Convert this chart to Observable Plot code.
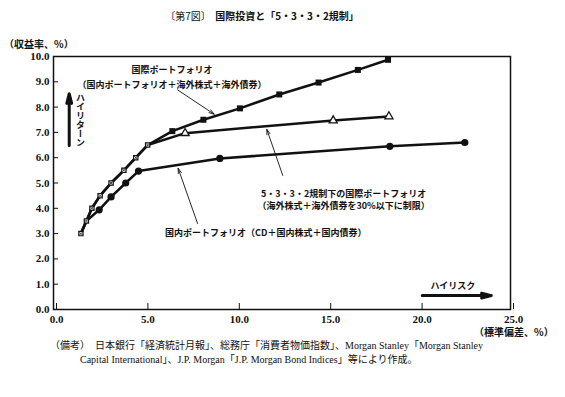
<!DOCTYPE html>
<html><head><meta charset="utf-8">
<script src="https://cdn.jsdelivr.net/npm/d3@7"></script>
<script src="https://cdn.jsdelivr.net/npm/@observablehq/plot@0.6"></script>
<style>
body{margin:0;background:#fff;}
#wrap{position:relative;width:565px;height:397px;overflow:hidden;background:#fff;}
#wrap svg{position:absolute;left:0;top:0;}
.t{position:absolute;white-space:nowrap;color:#111;font-family:"Noto Sans CJK JP",sans-serif;}
.serif{font-family:"Liberation Serif","Noto Sans CJK JP",serif;}
</style></head><body><div id="wrap"></div>
<script>
// ---- data ----
const xTicks = [0, 5, 10, 15, 20, 25];
const yTicks = [0, 1, 2, 3, 4, 5, 6, 7, 8, 9, 10];
// common segment shared by the two international portfolios
const sharedX = [1.5, 1.8, 2.1, 2.55, 3.15, 3.85, 4.5, 5.15];
const sharedY = [3.0, 3.5, 4.0, 4.5, 5.0, 5.5, 6.0, 6.5];
// 国際ポートフォリオ (unrestricted)
const intlX = [6.5, 8.2, 10.2, 12.35, 14.5, 16.65, 18.3];
const intlY = [7.05, 7.5, 7.95, 8.5, 8.97, 9.47, 9.87];
// 5・3・3・2規制下の国際ポートフォリオ
const restX = [7.2, 15.3, 18.35];
const restY = [6.97, 7.47, 7.63];
// 国内ポートフォリオ
const domX = [2.5, 3.15, 3.95, 4.65, 9.1, 18.4, 22.5];
const domY = [3.94, 4.45, 5.0, 5.47, 5.97, 6.45, 6.6];
// annotations
const noteText = [
  "国際ポートフォリオ\n（国内ポートフォリオ＋海外株式＋海外債券）",
  "5・3・3・2規制下の国際ポートフォリオ\n（海外株式＋海外債券を30%以下に制限）",
  "国内ポートフォリオ（CD＋国内株式＋国内債券）",
  "ハイリスク"
];
const noteX = [6.48, 15.87, 11.61, 21.85];
const noteY = [9.23, 4.38, 3.02, 0.92];
const pointerX1 = [6.79, 12.54, 7.88];
const pointerY1 = [8.68, 5.3, 3.4];
const pointerX2 = [8.79, 11.67, 6.82];
const pointerY2 = [7.72, 7.12, 5.58];
const bigArrowX1 = [0.86, 20.17];
const bigArrowY1 = [6.48, 0.55];
const bigArrowX2 = [0.86, 23.95];
const bigArrowY2 = [8.53, 0.55];

// ---- build tables ----
const pts = (xs, ys) => xs.map((x, i) => ({x, y: ys[i]}));
const shared = pts(sharedX, sharedY);
const intlTail = pts(intlX, intlY);
const restTail = pts(restX, restY);
const domTail = pts(domX, domY);
const intlLine = shared.concat(intlTail);
const restLine = shared.concat(restTail);
const domLine = shared.slice(0, 2).concat(domTail);
const notes = noteText.map((t, i) => ({t, x: noteX[i], y: noteY[i]}));
const pointers = pointerX1.map((x1, i) => ({x1, y1: pointerY1[i], x2: pointerX2[i], y2: pointerY2[i]}));
const bigArrows = bigArrowX1.map((x1, i) => ({x1, y1: bigArrowY1[i], x2: bigArrowX2[i], y2: bigArrowY2[i]}));

const INK = "#111";
const CJK = '"Noto Sans CJK JP", sans-serif';
const fmt = d3.format(".1f");

const plot = Plot.plot({
  width: 565, height: 397,
  marginLeft: 53, marginRight: 55, marginTop: 56, marginBottom: 88,
  x: {domain: [0, 25]},
  y: {domain: [0, 10]},
  style: {fontFamily: '"Liberation Serif", serif', fontSize: "11px", fontWeight: "bold", color: INK, background: "transparent"},
  marks: [
    Plot.frame({stroke: INK, strokeWidth: 1.5}),
    Plot.axisX({ticks: xTicks, tickSize: -6, tickPadding: 12, tickFormat: fmt, label: null, dx: 3}),
    Plot.axisY({ticks: yTicks, tickSize: -5, tickPadding: 9, tickFormat: fmt, label: null}),
    Plot.line(intlLine, {x: "x", y: "y", stroke: INK, strokeWidth: 2.5}),
    Plot.line(restLine, {x: "x", y: "y", stroke: INK, strokeWidth: 2.5}),
    Plot.line(domLine, {x: "x", y: "y", stroke: INK, strokeWidth: 2.5}),
    Plot.dot(intlTail, {x: "x", y: "y", symbol: "square", fill: INK, r: 3.4}),
    Plot.dot(restTail, {x: "x", y: "y", symbol: "triangle", fill: "white", stroke: INK, strokeWidth: 1.3, r: 3}),
    Plot.dot(domTail, {x: "x", y: "y", symbol: "circle", fill: INK, r: 3.6}),
    Plot.dot(shared, {x: "x", y: "y", symbol: "square", fill: "white", stroke: INK, strokeWidth: 1.2, r: 2.4}),
    Plot.dot(shared, {x: "x", y: "y", symbol: "times", stroke: INK, strokeWidth: 0.8, r: 1.4}),
    Plot.arrow(pointers, {x1: "x1", y1: "y1", x2: "x2", y2: "y2", stroke: INK, strokeWidth: 0.9, headLength: 9, headAngle: 35}),
    Plot.arrow(bigArrows, {x1: "x1", y1: "y1", x2: "x2", y2: "y2", stroke: INK, strokeWidth: 3, headLength: 5, headAngle: 28}),
    Plot.text(notes.slice(0, 1), {x: "x", y: "y", text: "t", fontFamily: CJK, fontSize: 9, fontWeight: "bold", lineHeight: 1.65, textAnchor: "middle", fill: INK}),
    Plot.text(notes.slice(1, 2), {x: "x", y: "y", text: "t", fontFamily: CJK, fontSize: 9, fontWeight: "bold", lineHeight: 1.35, textAnchor: "middle", fill: INK}),
    Plot.text(notes.slice(2), {x: "x", y: "y", text: "t", fontFamily: CJK, fontSize: 9, fontWeight: "bold", textAnchor: "middle", fill: INK})
  ]
});
const wrap = document.getElementById("wrap");
wrap.appendChild(plot);

const add = (html, style, cls = "t") => {
  const d = document.createElement("div");
  d.className = cls;
  d.innerHTML = html;
  d.setAttribute("style", style);
  wrap.appendChild(d);
};
add('<span style="font-weight:400">〔第7図〕</span>&nbsp;&nbsp;<b>国際投資と「5・3・3・2規制」</b>',
    "left:0;width:524px;text-align:center;top:9px;font-size:10px;line-height:14px;");
add("<b>（収益率、%）</b>", "left:4px;top:39px;font-size:10px;line-height:10px;");
add("<b>（標準偏差、%）</b>", "left:474px;top:326px;font-size:10px;line-height:12px;");
add("<b>ハイリターン</b>", "left:75px;top:93px;font-size:9px;line-height:10px;writing-mode:vertical-rl;text-orientation:upright;letter-spacing:0px;");
add("（備考）　日本銀行「経済統計月報」、総務庁「消費者物価指数」、Morgan Stanley「Morgan Stanley",
    "left:50px;top:339px;font-size:10px;line-height:14px;", "t serif");
add("Capital International」、J.P. Morgan「J.P. Morgan Bond Indices」等により作成。",
    "left:80px;top:353px;font-size:10px;line-height:14px;", "t serif");
</script></body></html>
